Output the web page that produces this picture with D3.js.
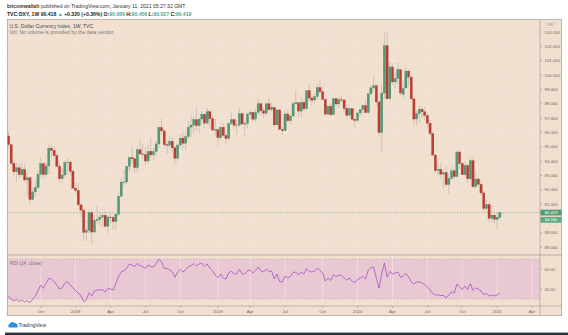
<!DOCTYPE html>
<html><head><meta charset="utf-8">
<script src="https://cdn.jsdelivr.net/npm/d3@7"></script>
<style>html,body{margin:0;padding:0;background:#fff;}svg{display:block;font-family:"Liberation Sans",Arial,sans-serif;}</style>
</head><body><svg id="c" width="568" height="335"></svg>
<script>
// ---- data (weekly DXY, TVC) ----
const firstWeek = "2017-07-10";
const lastWeek = "2021-01-11";
const weekOpen = [
95.76,95.15,93.85,93.26,93.54,93.06,93.42,92.69,92.84,91.33,
91.86,92.16,93.08,93.83,93.06,93.67,94.91,94.75,94.39,93.65,
92.77,93.04,93.91,93.94,93.30,92.12,91.96,90.96,90.59,89.04,
89.18,90.41,89.06,89.87,89.94,90.10,90.23,89.47,90.11,90.07,
89.79,90.30,91.56,92.55,92.55,93.64,94.25,94.17,93.55,94.79,
94.51,94.47,94.01,94.68,94.44,94.67,95.20,96.35,96.11,95.16,
95.11,95.39,94.93,94.20,95.13,95.61,95.25,95.71,96.37,96.52,
96.90,96.47,96.94,97.27,96.65,97.44,96.96,96.17,96.19,95.64,
96.36,95.80,95.58,96.63,96.90,96.51,96.52,97.31,96.60,96.62,
97.28,97.39,96.93,97.40,98.00,97.51,97.34,98.00,97.60,97.75,
96.53,97.57,96.22,96.13,97.29,96.82,97.15,98.00,98.07,97.49,
98.10,97.66,98.92,98.40,98.26,98.50,99.12,98.84,98.30,97.28,
97.83,97.24,98.35,97.99,98.29,98.27,97.68,97.20,97.67,96.92,
96.84,97.36,97.61,97.88,97.38,98.70,99.11,99.25,98.13,95.99,
98.75,102.05,98.36,100.57,99.52,99.77,100.37,98.65,99.10,100.28,
99.86,98.34,96.94,97.32,97.62,97.44,97.18,96.65,95.93,94.43,
93.35,93.43,93.10,93.20,92.37,92.79,93.33,92.93,94.64,93.84,
93.06,93.70,92.77,94.04,92.23,92.76,92.39,91.79,90.70,90.98,
90.02,90.24,89.94,90.066];
const weekHigh = [
96.08,95.20,94.12,93.92,93.86,93.88,93.78,93.23,92.96,92.21,
92.53,93.34,94.27,93.93,93.89,95.15,95.07,95.02,94.60,93.91,
93.49,94.06,94.22,94.05,93.43,92.50,92.49,90.98,90.70,89.44,
90.56,90.56,90.24,90.93,90.52,90.40,90.55,90.22,90.53,90.20,
90.37,91.75,92.85,93.42,93.70,94.35,95.03,94.21,95.01,95.53,
95.24,94.96,95.15,95.65,94.94,95.44,96.43,96.98,96.27,95.41,
95.74,95.64,95.09,95.29,95.91,96.10,96.09,96.79,97.20,97.10,
97.69,97.00,97.50,97.30,97.71,97.58,97.20,96.96,96.30,96.44,
96.63,95.98,96.69,97.37,96.96,96.87,97.71,97.40,96.80,97.40,
97.51,97.49,97.63,98.33,98.14,97.77,98.03,98.37,98.08,97.78,
97.60,97.67,96.36,97.57,97.59,97.29,98.13,98.93,98.10,98.45,
98.34,98.93,99.37,98.66,98.74,99.38,99.67,99.27,98.45,97.94,
98.05,98.42,98.45,98.40,98.55,98.29,97.95,97.77,97.72,96.99,
97.44,97.62,97.99,98.19,98.76,99.23,99.91,99.39,98.19,99.35,
102.99,102.99,100.93,100.80,100.20,100.87,100.40,99.60,100.56,100.40,
99.97,98.37,97.52,97.88,97.80,97.80,97.39,96.86,96.06,94.46,
93.99,93.90,93.40,93.66,93.16,93.66,93.45,94.74,94.80,93.90,
94.00,93.78,94.30,94.30,93.20,92.86,92.65,91.90,91.32,91.12,
90.90,90.44,90.40,90.456];
const weekLow = [
94.93,93.73,93.00,92.55,92.84,92.95,92.55,91.62,91.01,91.26,
91.53,92.07,92.86,92.75,92.87,93.10,94.26,94.20,93.60,92.50,
92.50,92.87,93.05,93.00,92.10,91.75,90.90,90.11,88.44,88.45,
88.93,88.25,88.98,89.64,89.49,89.38,89.35,88.94,89.69,89.23,
89.23,90.20,91.46,92.31,92.40,93.28,93.83,93.19,93.24,94.40,
94.19,93.70,93.83,94.25,94.08,94.36,94.93,95.86,94.93,94.49,
94.88,94.60,93.81,93.99,94.93,94.88,94.80,95.52,95.68,95.90,
96.15,95.92,96.60,96.31,96.58,96.27,96.08,95.70,94.98,95.45,
95.67,95.16,95.48,96.52,96.23,95.84,96.37,96.48,95.74,96.28,
96.95,96.74,96.75,97.19,97.16,96.96,97.17,97.55,97.44,96.46,
96.53,96.20,95.84,96.10,96.73,96.63,97.12,97.90,97.03,97.09,
97.50,97.57,98.15,97.87,97.98,98.36,98.70,98.22,97.21,97.20,
97.11,97.20,97.82,97.72,98.11,97.37,96.94,97.14,96.84,96.36,
96.69,97.13,97.31,97.34,97.33,98.60,98.95,97.87,95.71,94.65,
98.33,98.27,98.23,99.33,99.10,99.40,98.60,98.40,99.10,99.22,
98.26,96.48,96.50,96.70,97.00,96.87,96.36,95.75,94.35,93.18,
92.97,92.80,92.13,92.20,91.75,92.70,92.76,92.88,93.45,93.04,
93.00,92.47,92.71,92.13,92.13,92.25,91.60,90.50,90.47,89.74,
89.72,89.68,89.21,90.027];
const weekClose = [
95.15,93.85,93.26,93.54,93.06,93.42,92.69,92.84,91.33,91.86,
92.16,93.08,93.83,93.06,93.67,94.91,94.75,94.39,93.65,92.77,
93.04,93.91,93.94,93.30,92.12,91.96,90.96,90.59,89.04,89.18,
90.41,89.06,89.87,89.94,90.10,90.23,89.47,90.11,90.07,89.79,
90.30,91.56,92.55,92.55,93.64,94.25,94.17,93.55,94.79,94.51,
94.47,94.01,94.68,94.44,94.67,95.20,96.35,96.11,95.16,95.11,
95.39,94.93,94.20,95.13,95.61,95.25,95.71,96.37,96.52,96.90,
96.47,96.94,97.27,96.65,97.44,96.96,96.17,96.19,95.64,96.36,
95.80,95.58,96.63,96.90,96.51,96.52,97.31,96.60,96.62,97.28,
97.39,96.93,97.40,98.00,97.51,97.34,98.00,97.60,97.75,96.53,
97.57,96.22,96.13,97.29,96.82,97.15,98.00,98.07,97.49,98.10,
97.66,98.92,98.40,98.26,98.50,99.12,98.84,98.30,97.28,97.83,
97.24,98.35,97.99,98.29,98.27,97.68,97.20,97.67,96.92,96.84,
97.36,97.61,97.88,97.38,98.70,99.11,99.25,98.13,95.99,98.75,
102.05,98.36,100.57,99.52,99.77,100.37,98.75,99.05,100.28,99.86,
98.34,96.94,97.32,97.62,97.44,97.18,96.65,95.93,94.43,93.35,
93.43,93.10,93.20,92.37,92.79,93.33,92.93,94.64,93.84,93.06,
93.70,92.77,94.04,92.23,92.76,92.39,91.79,90.70,90.98,90.02,
90.24,89.94,90.10,90.419];
const rsiValues = [
33,29.7,28.3,29.5,27.5,29,27,28.5,26.3,29.7,
33,38.3,44,40.7,45.7,50.7,49.7,47.3,44,40,
41.3,45.7,47.3,44,41.3,38.3,35.7,33.3,27.3,29,
36.3,33,38,39,39,39.5,37,40.5,40,39,
45.7,52.3,57.3,58.3,60.7,65,64,62.3,65.7,63,
62.3,60.7,64,62.3,62.3,65,69.7,67.3,60.7,60.7,
59,57.3,51.7,57,59.5,57,59.5,62.5,63.5,65.5,
63,65,65.7,62.3,65,60.7,58.3,54,51.3,55,
51,50,56,58,55,55,59.5,55,55,58.5,
59,56,58.5,62,58,57,60,57.5,58,50,
55,47.5,47,53,51,52.5,56.5,57,54,57,
55,60.5,57.5,57,58,60.5,59,56,48,51,
48.5,54,52.5,54,53.5,51,49,51,47.5,46.5,
49.5,51,52.5,50,59,61.5,62,51,41,55,
66,52,57.5,55,56,57,51.5,53,55.5,52,
47,45,47,47,46,44.5,42,39,35.5,34,
34,33.5,33.5,31,34,37,36,45,42,39.5,
43,39.5,45.5,38.5,41,40,38,34.5,35.5,33,
34,33,34,36];
const priceTicks = [88,89,90,91,92,93,94,95,96,97,98,99,100,101,102,103];
const rsiTicks = [60,40];
const timeTickMonths = ["2017-10","2018-01","2018-04","2018-07","2018-10","2019-01","2019-04","2019-07","2019-10","2020-01","2020-04","2020-07","2020-10","2021-01","2021-04"];
const timeTickLabels = ["Oct","2018","Apr","Jul","Oct","2019","Apr","Jul","Oct","2020","Apr","Jul","Oct","2021","Apr"];
const lastPrice = 90.419;

// ---- layout ----
const svg = d3.select("#c");
const L = 7, R = 562, AX = 540, T = 19, SEP = 255, TAX = 306, B = 316;
const bg = "#f1dfcf", grid = "#f7eadf", frame = "#a9a19a";
const upC = "#4f9c78", dnC = "#c23c2d", upE = "#3b7a5c", dnE = "#8f2a20", wickC = "#b9aea6";
const parse = d3.utcParse("%Y-%m-%d");
const dates = d3.utcMonday.range(parse(firstWeek), d3.utcDay.offset(parse(lastWeek), 1));

const x = d3.scaleUtc().domain([dates[0], dates[dates.length - 1]]).range([8.5, 8.5 + 2.685 * (dates.length - 1)]);
const y = d3.scaleLinear().domain([88, 102]).range([247.3, 46.4]);
const yr = d3.scaleLinear().domain([30, 70]).range([299, 259]);

// header
svg.append("rect").attr("x", 0).attr("y", 0).attr("width", 568).attr("height", 335).attr("fill", "#fff");
const h1 = svg.append("text").attr("x", 7).attr("y", 7.8).attr("font-size", 5.1).attr("fill", "#333");
h1.append("tspan").attr("font-weight", "bold").text("bitcoinwallah");
h1.append("tspan").text(" published on TradingView.com, January 11, 2021 05:27:32 GMT");
const h2 = svg.append("text").attr("x", 7).attr("y", 16).attr("font-size", 5.1).attr("fill", "#222").attr("font-weight", "bold");
const teal = "#3aa99a";
[["TVC:DXY, 1W 90.418 ", "#222"], ["\u25B2", teal], [" +0.320 (+0.36%) O:", "#222"], ["90.066", teal], [" H:", "#222"], ["90.456", teal],
 [" L:", "#222"], ["90.027", teal], [" C:", "#222"], ["90.419", teal]].forEach(([t, c]) => h2.append("tspan").attr("fill", c).text(t));

// chart background
svg.append("rect").attr("x", L).attr("y", T).attr("width", R - L).attr("height", B - T).attr("fill", bg);

// RSI band
svg.append("rect").attr("x", L).attr("y", yr(70)).attr("width", AX - L).attr("height", yr(30) - yr(70)).attr("fill", "#e7c8d3");
[70, 30].forEach(v => svg.append("line").attr("x1", L).attr("x2", AX).attr("y1", yr(v)).attr("y2", yr(v))
  .attr("stroke", "#bfa9b6").attr("stroke-width", 0.6).attr("stroke-dasharray", "1.5,1.5"));

// grid
const tickDates = timeTickMonths.map(m => d3.utcMonday.ceil(d3.utcParse("%Y-%m")(m)));
svg.append("g").selectAll("line").data(tickDates).join("line")
  .attr("x1", d => x(d)).attr("x2", d => x(d)).attr("y1", T).attr("y2", TAX)
  .attr("stroke", grid).attr("stroke-width", 0.7).attr("opacity", 0.85);
svg.append("g").selectAll("line").data(priceTicks).join("line")
  .attr("x1", L).attr("x2", AX).attr("y1", d => y(d)).attr("y2", d => y(d))
  .attr("stroke", grid).attr("stroke-width", 0.7).attr("opacity", 0.85);

// clip
svg.append("clipPath").attr("id", "pp").append("rect").attr("x", L).attr("y", T).attr("width", AX - L).attr("height", SEP - T);
svg.append("clipPath").attr("id", "rp").append("rect").attr("x", L).attr("y", SEP).attr("width", AX - L).attr("height", TAX - SEP);

// legends
svg.append("text").attr("x", 9.5).attr("y", 28.3).attr("font-size", 5.1).attr("fill", "#4a4a4a").text("U.S. Dollar Currency Index, 1W, TVC");
svg.append("text").attr("x", 9.5).attr("y", 34).attr("font-size", 5.1).attr("fill", "#777").text("Vol: No volume is provided by the data vendor.");
svg.append("text").attr("x", 10).attr("y", 265).attr("font-size", 4.8).attr("fill", "#777").text("RSI (14, close)");

// last price dashed line
svg.append("line").attr("x1", L).attr("x2", AX).attr("y1", y(lastPrice)).attr("y2", y(lastPrice))
  .attr("stroke", "#6aab88").attr("stroke-width", 0.6).attr("stroke-dasharray", "1.5,1.5");

// candles
const cg = svg.append("g").attr("clip-path", "url(#pp)");
const idx = d3.range(dates.length);
cg.selectAll("line.w").data(idx).join("line").attr("class", "w")
  .attr("x1", i => x(dates[i])).attr("x2", i => x(dates[i]))
  .attr("y1", i => y(weekHigh[i])).attr("y2", i => y(weekLow[i]))
  .attr("stroke", wickC).attr("stroke-width", 0.6);
cg.selectAll("rect.b").data(idx).join("rect").attr("class", "b")
  .attr("x", i => x(dates[i]) - 1.1).attr("width", 2.2)
  .attr("y", i => y(Math.max(weekOpen[i], weekClose[i])))
  .attr("height", i => Math.max(0.6, Math.abs(y(weekOpen[i]) - y(weekClose[i]))))
  .attr("fill", i => weekClose[i] >= weekOpen[i] ? upC : dnC)
  .attr("stroke", i => weekClose[i] >= weekOpen[i] ? upE : dnE).attr("stroke-width", 0.25);

// RSI line
svg.append("path").attr("clip-path", "url(#rp)")
  .datum(idx).attr("fill", "none").attr("stroke", "#a649c4").attr("stroke-width", 0.75)
  .attr("d", d3.line().x(i => x(dates[i])).y(i => yr(rsiValues[i])));

// frame and separators
svg.append("rect").attr("x", L + 0.3).attr("y", T + 0.3).attr("width", R - L - 0.6).attr("height", B - T - 0.6)
  .attr("fill", "none").attr("stroke", frame).attr("stroke-width", 0.7);
svg.append("line").attr("x1", L).attr("x2", R).attr("y1", SEP).attr("y2", SEP).attr("stroke", frame).attr("stroke-width", 0.8);
svg.append("line").attr("x1", L).attr("x2", R).attr("y1", TAX).attr("y2", TAX).attr("stroke", frame).attr("stroke-width", 0.7);
svg.append("line").attr("x1", AX).attr("x2", AX).attr("y1", T).attr("y2", B).attr("stroke", frame).attr("stroke-width", 0.7);

// price axis
const pa = svg.append("g");
pa.selectAll("line").data(priceTicks).join("line")
  .attr("x1", AX).attr("x2", AX + 2.2).attr("y1", d => y(d)).attr("y2", d => y(d)).attr("stroke", "#888").attr("stroke-width", 0.5);
pa.selectAll("text").data(priceTicks).join("text")
  .attr("x", AX + 4.5).attr("y", d => y(d) + 1.5).attr("font-size", 4.3).attr("fill", "#6b6b6b").text(d3.format(".3f"));
// USD tag
svg.append("rect").attr("x", 545.5).attr("y", 22.3).attr("width", 10).attr("height", 5).attr("fill", "#f6e9de").attr("stroke", "#c9bdb3").attr("stroke-width", 0.4);
svg.append("text").attr("x", 550.5).attr("y", 26).attr("font-size", 3.4).attr("text-anchor", "middle").attr("fill", "#777").text("USD");
// last price tags
svg.append("rect").attr("x", AX + 0.5).attr("y", y(lastPrice) - 2.9).attr("width", 21).attr("height", 5.8).attr("fill", "#4f9c75");
svg.append("text").attr("x", AX + 11).attr("y", y(lastPrice) + 1.5).attr("font-size", 4.3).attr("text-anchor", "middle").attr("fill", "#fff").text(d3.format(".3f")(lastPrice));
svg.append("rect").attr("x", AX + 0.5).attr("y", y(lastPrice) + 4.3).attr("width", 21).attr("height", 5.8).attr("fill", "#5ea783");
svg.append("text").attr("x", AX + 11).attr("y", y(lastPrice) + 8.7).attr("font-size", 4.1).attr("text-anchor", "middle").attr("fill", "#fff").text("4d 16h");

// rsi axis
svg.append("g").selectAll("line").data(rsiTicks).join("line")
  .attr("x1", AX).attr("x2", AX + 2.2).attr("y1", d => yr(d)).attr("y2", d => yr(d)).attr("stroke", "#888").attr("stroke-width", 0.5);
svg.append("g").selectAll("text").data(rsiTicks).join("text")
  .attr("x", AX + 4.5).attr("y", d => yr(d) + 1.5).attr("font-size", 4.3).attr("fill", "#6b6b6b").text(d3.format(".2f"));

// time axis
svg.append("g").selectAll("line").data(tickDates).join("line")
  .attr("x1", d => x(d)).attr("x2", d => x(d)).attr("y1", TAX).attr("y2", TAX + 1.8).attr("stroke", "#888").attr("stroke-width", 0.5);
svg.append("g").selectAll("text").data(tickDates).join("text")
  .attr("x", d => x(d)).attr("y", 313).attr("font-size", 4.3).attr("text-anchor", "middle").attr("fill", "#6b6b6b")
  .text((d, i) => timeTickLabels[i]);

// footer logo
const logo = svg.append("g").attr("transform", "translate(8,321.5)");
logo.append("path").attr("d", "M1.5,6 a1.8,1.8 0 0 1 0.3,-3.5 a2.6,2.6 0 0 1 4.8,-0.8 a1.9,1.9 0 0 1 2.6,1.9 a1.3,1.3 0 0 1 -0.2,2.4 z").attr("fill", "#2d8fe0");
svg.append("text").attr("x", 18.5).attr("y", 327).attr("font-size", 5).attr("fill", "#333").text("TradingView");
svg.append("rect").attr("x", 5).attr("y", 332.6).attr("width", 563).attr("height", 2.4).attr("fill", "#2b2f3a");
</script></body></html>
